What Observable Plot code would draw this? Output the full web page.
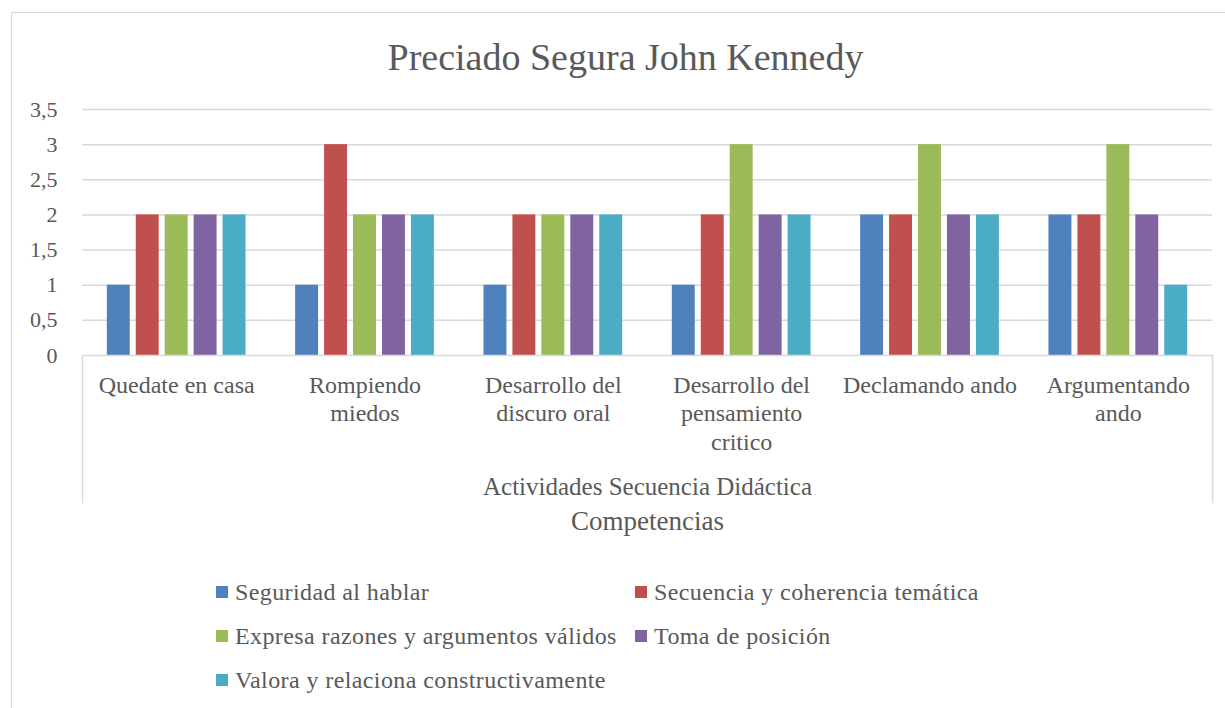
<!DOCTYPE html>
<html>
<head>
<meta charset="utf-8">
<script src="https://cdn.jsdelivr.net/npm/d3@7"></script>
<script src="https://cdn.jsdelivr.net/npm/@observablehq/plot@0.6"></script>
<style>
  html, body { margin: 0; padding: 0; background: #fff; width: 1225px; height: 708px; overflow: hidden; }
  body { position: relative; font-family: 'Liberation Serif', 'Times New Roman', serif; color: #595959; }
  #border { position: absolute; left: 11px; top: 12px; width: 1400px; height: 900px;
            border-left: 1.5px solid #d9d9d9; border-top: 1.5px solid #d9d9d9; }
  #title { position: absolute; left: 0; width: 1251px; top: 34px; text-align: center; font-size: 38px; line-height: 46px; }
  #chart { position: absolute; left: 0; top: 90px; }
  #legend { position: absolute; left: 216px; top: 570px; width: 900px; display: flex; flex-wrap: wrap; }
  .item { width: 419px; height: 44px; display: flex; align-items: center; font-size: 24px; letter-spacing: 0.4px; white-space: nowrap; }
  .sw { width: 12px; height: 12px; margin-right: 7px; flex: none; }
</style>
</head>
<body>
<div id="border"></div>
<div id="title"></div>
<div id="chart"></div>
<div id="legend"></div>
<script>
const title = "Preciado Segura John Kennedy";
const categories = ["Quedate en casa", "Rompiendo miedos", "Desarrollo del discuro oral", "Desarrollo del pensamiento critico", "Declamando ando", "Argumentando ando"];
const tickLabels = ["Quedate en casa", "Rompiendo\nmiedos", "Desarrollo del\ndiscuro oral", "Desarrollo del\npensamiento\ncritico", "Declamando ando", "Argumentando\nando"];
const series = ["Seguridad al hablar", "Secuencia y coherencia temática", "Expresa razones y argumentos válidos", "Toma de posición", "Valora y relaciona constructivamente"];
const colors = ["#4F81BD", "#C0504D", "#9BBB59", "#8064A2", "#4BACC6"];
const seguridad  = [1, 1, 1, 1, 2, 2];
const secuencia  = [2, 3, 2, 2, 2, 2];
const expresa    = [2, 2, 2, 3, 3, 3];
const toma       = [2, 2, 2, 2, 2, 2];
const valora     = [2, 2, 2, 2, 2, 1];
const yTicks = [0, 0.5, 1, 1.5, 2, 2.5, 3, 3.5];
const groupLabel = "Actividades Secuencia Didáctica";
const axisTitle = "Competencias";

const values = [seguridad, secuencia, expresa, toma, valora];
const rows = [];
categories.forEach((c, i) => series.forEach((s, j) => rows.push({category: c, series: s, value: values[j][i]})));

document.getElementById("title").textContent = title;

const font = "'Liberation Serif', 'Times New Roman', serif";
const grid = "#d9d9d9";

const chart = Plot.plot({
  width: 1225,
  height: 450,
  marginLeft: 82,
  marginRight: 13,
  marginTop: 19,
  marginBottom: 185,
  style: {fontFamily: font, fontSize: "22px", color: "#595959", background: "transparent", overflow: "visible"},
  fx: {domain: categories, padding: 0, axis: null, round: false},
  x: {domain: series, paddingInner: 0.207, paddingOuter: 0.857, axis: null, round: false},
  y: {domain: [0, 3.5], ticks: yTicks, tickFormat: d => String(d).replace(".", ","), tickSize: 0, tickPadding: 25, label: null},
  color: {domain: series, range: colors},
  marks: [
    Plot.ruleY(yTicks.slice(1), {stroke: grid, strokeWidth: 1.5}),
    Plot.barY(rows, {fx: "category", x: "series", y: "value", fill: "series"}),
    Plot.ruleY([0], {stroke: grid, strokeWidth: 1.5}),
    Plot.frame({anchor: "left", fx: () => categories[0], stroke: grid, strokeWidth: 1.5, insetTop: 246, insetBottom: -147}),
    Plot.frame({anchor: "right", fx: () => categories[categories.length - 1], stroke: grid, strokeWidth: 1.5, insetTop: 246, insetBottom: -147}),
    Plot.text(categories, {fx: d => d, text: (d, i) => tickLabels[i], frameAnchor: "bottom", lineAnchor: "top", dy: 17, lineHeight: 1.19, fontSize: 24, fill: "#595959", style: "letter-spacing:0.5px"}),
    Plot.text([groupLabel], {fx: () => categories[2], frameAnchor: "bottom-right", textAnchor: "middle", dy: 139, fontSize: 25, fill: "#595959"}),
    Plot.text([axisTitle], {fx: () => categories[2], frameAnchor: "bottom-right", textAnchor: "middle", dy: 174, fontSize: 27, fill: "#595959"})
  ]
});
document.getElementById("chart").appendChild(chart);

const legend = document.getElementById("legend");
series.forEach((s, i) => {
  const item = document.createElement("div");
  item.className = "item";
  const sw = document.createElement("span");
  sw.className = "sw";
  sw.style.background = colors[i];
  item.appendChild(sw);
  item.appendChild(document.createTextNode(s));
  legend.appendChild(item);
});
</script>
</body>
</html>
